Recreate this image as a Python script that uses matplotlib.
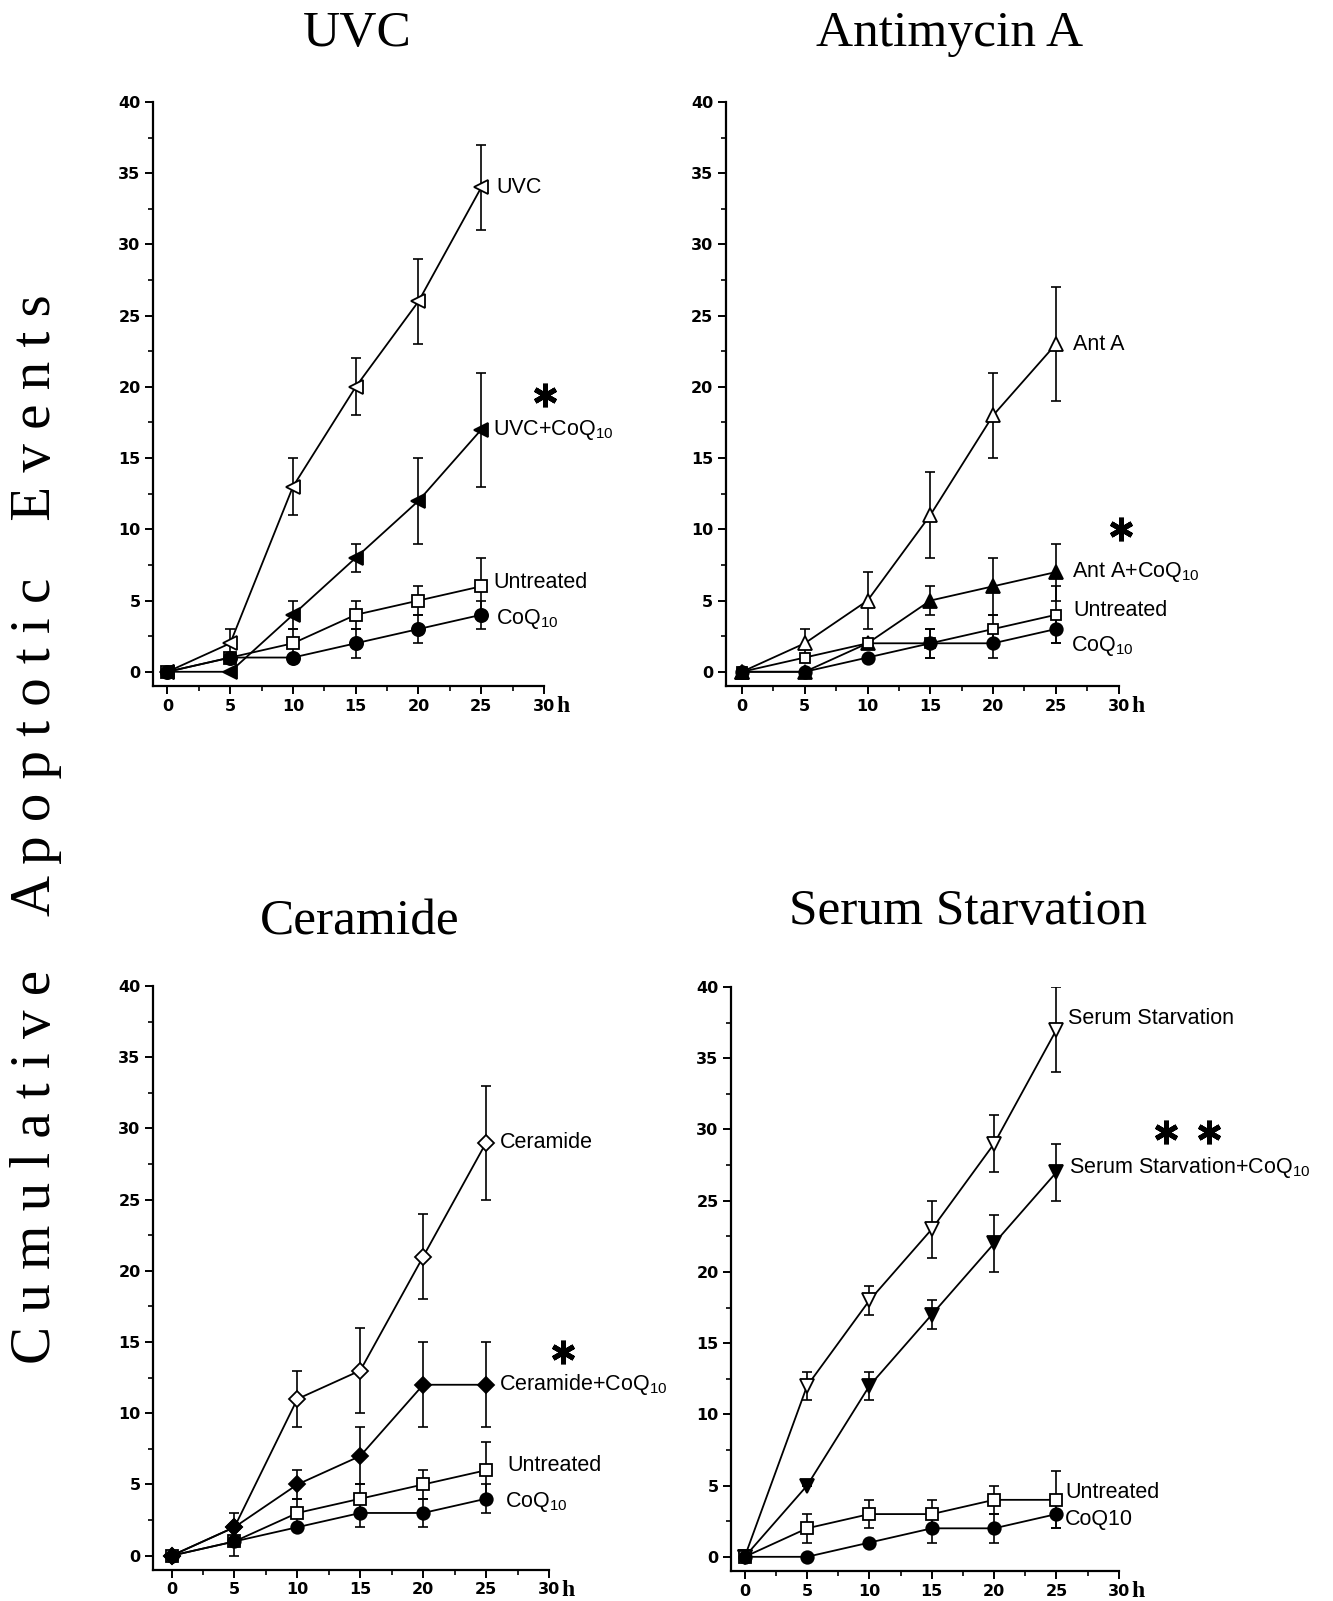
"""Cumulative apoptotic events over time, four treatments with/without CoQ10."""

import matplotlib
matplotlib.use("Agg")
import matplotlib.pyplot as plt
from matplotlib.ticker import MultipleLocator

plt.rcParams['mathtext.fontset'] = 'custom'
plt.rcParams['mathtext.rm'] = 'Liberation Sans'
plt.rcParams['mathtext.it'] = 'Liberation Sans:italic'

hours = [0, 5, 10, 15, 20, 25]

# UVC panel
uvc = [0, 2, 13, 20, 26, 34]
uvc_err = [0, 1, 2, 2, 3, 3]
uvc_coq = [0, 0, 4, 8, 12, 17]
uvc_coq_err = [0, 0, 1, 1, 3, 4]
uvc_untr = [0, 1, 2, 4, 5, 6]
uvc_untr_err = [0, 0, 1, 1, 1, 2]
uvc_coqonly = [0, 1, 1, 2, 3, 4]
uvc_coqonly_err = [0, 0, 0, 1, 1, 1]

# Antimycin A panel
anta = [0, 2, 5, 11, 18, 23]
anta_err = [0, 1, 2, 3, 3, 4]
anta_coq = [0, 0, 2, 5, 6, 7]
anta_coq_err = [0, 0, 0, 1, 2, 2]
anta_untr = [0, 1, 2, 2, 3, 4]
anta_untr_err = [0, 0, 0, 1, 1, 2]
anta_coqonly = [0, 0, 1, 2, 2, 3]
anta_coqonly_err = [0, 0, 0, 1, 1, 1]

# Ceramide panel
cer = [0, 2, 11, 13, 21, 29]
cer_err = [0, 1, 2, 3, 3, 4]
cer_coq = [0, 2, 5, 7, 12, 12]
cer_coq_err = [0, 0, 1, 2, 3, 3]
cer_untr = [0, 1, 3, 4, 5, 6]
cer_untr_err = [0, 1, 1, 1, 1, 2]
cer_coqonly = [0, 1, 2, 3, 3, 4]
cer_coqonly_err = [0, 0, 0, 1, 1, 1]

# Serum starvation panel
ss = [0, 12, 18, 23, 29, 37]
ss_err = [0, 1, 1, 2, 2, 3]
ss_coq = [0, 5, 12, 17, 22, 27]
ss_coq_err = [0, 0, 1, 1, 2, 2]
ss_untr = [0, 2, 3, 3, 4, 4]
ss_untr_err = [0, 1, 1, 1, 1, 2]
ss_coqonly = [0, 0, 1, 2, 2, 3]
ss_coqonly_err = [0, 0, 0, 1, 1, 1]

COQ = 'CoQ$_{10}$'

panels = [
    dict(title='UVC', pos=[0.1148, 0.5715, 0.2933, 0.3648], title_xy=(0.268, 0.9713),
         xmin=-1.15,
         series=[
             (uvc, uvc_err, '<', 'white', 10, 'UVC', (26.2, 34)),
             (uvc_coq, uvc_coq_err, '<', 'black', 10, 'UVC+' + COQ, (25.9, 17)),
             (uvc_untr, uvc_untr_err, 's', 'white', 8.5, 'Untreated', (26.0, 6.3)),
             (uvc_coqonly, uvc_coqonly_err, 'o', 'black', 9.5, COQ, (26.2, 3.7)),
         ],
         stars=[(30.1, 19.4)]),
    dict(title='Antimycin A', pos=[0.5444, 0.5715, 0.2948, 0.3648], title_xy=(0.712, 0.9713),
         xmin=-1.3,
         series=[
             (anta, anta_err, '^', 'white', 10, 'Ant A', (26.4, 23)),
             (anta_coq, anta_coq_err, '^', 'black', 10, 'Ant A+' + COQ, (26.3, 7)),
             (anta_untr, anta_untr_err, 's', 'white', 7, 'Untreated', (26.4, 4.3)),
             (anta_coqonly, anta_coqonly_err, 'o', 'black', 9, COQ, (26.2, 1.8)),
         ],
         stars=[(30.2, 10.0)]),
    dict(title='Ceramide', pos=[0.1148, 0.0194, 0.2971, 0.3648], title_xy=(0.270, 0.4166),
         xmin=-1.47,
         series=[
             (cer, cer_err, 'D', 'white', 8.5, 'Ceramide', (26.1, 29)),
             (cer_coq, cer_coq_err, 'D', 'black', 8.5, 'Ceramide+' + COQ, (26.0, 12)),
             (cer_untr, cer_untr_err, 's', 'white', 8, 'Untreated', (26.7, 6.3)),
             (cer_coqonly, cer_coqonly_err, 'o', 'black', 9, COQ, (26.5, 3.8)),
         ],
         stars=[(31.1, 14.3)]),
    dict(title='Serum Starvation', pos=[0.5484, 0.0187, 0.2909, 0.3648], title_xy=(0.726, 0.4229),
         xmin=-1.1,
         series=[
             (ss, ss_err, 'v', 'white', 10, 'Serum Starvation', (25.9, 37.8)),
             (ss_coq, ss_coq_err, 'v', 'black', 10, 'Serum Starvation+' + COQ, (26.0, 27.3)),
             (ss_untr, ss_untr_err, 's', 'white', 8, 'Untreated', (25.7, 4.5)),
             (ss_coqonly, ss_coqonly_err, 'o', 'black', 9, 'CoQ10', (25.7, 2.6)),
         ],
         stars=[(33.8, 29.8), (37.2, 29.8)]),
]

fig = plt.figure(figsize=(13.33, 16.01), dpi=100)

for p in panels:
    ax = fig.add_axes(p['pos'])
    for vals, err, mk, face, ms, label, (lx, ly) in p['series']:
        ax.errorbar(hours, vals, yerr=err, fmt='none', ecolor='black',
                    elinewidth=1.2, capsize=3.6, capthick=1.2, zorder=2)
        ax.plot(hours, vals, color='black', lw=1.3, marker=mk, ms=ms,
                mfc=face, mec='black', mew=1.3, zorder=3, clip_on=False)
        ax.text(lx, ly, label, fontsize=15.5, family='Liberation Sans',
                va='center', ha='left', clip_on=False)
    # significance asterisks, drawn as six-armed star markers
    sx = [s[0] for s in p['stars']]
    sy = [s[1] for s in p['stars']]
    ax.plot(sx, sy, linestyle='none', marker=(6, 2, 0), ms=17, mew=3.6,
            color='black', clip_on=False)

    ax.set_xlim(p['xmin'], 30)
    ax.set_ylim(-1, 40)
    ax.xaxis.set_major_locator(MultipleLocator(5))
    ax.xaxis.set_minor_locator(MultipleLocator(2.5))
    ax.yaxis.set_major_locator(MultipleLocator(5))
    ax.yaxis.set_minor_locator(MultipleLocator(2.5))
    for s in ['top', 'right']:
        ax.spines[s].set_visible(False)
    for s in ['left', 'bottom']:
        ax.spines[s].set_linewidth(1.6)
    ax.tick_params(which='major', direction='out', length=6, width=1.4,
                   labelsize=11.5, pad=3)
    ax.tick_params(which='minor', direction='out', length=3.5, width=1.2)
    for lbl in ax.get_xticklabels() + ax.get_yticklabels():
        lbl.set_fontweight('bold')
    # hour unit after the last x tick label
    ax.annotate('h', xy=(31.0, -1), xycoords='data', xytext=(0, -7),
                textcoords='offset points', fontsize=17,
                family='Liberation Serif', fontweight='bold',
                ha='left', va='top', annotation_clip=False)
    ax.patch.set_alpha(0)

    fig.text(p['title_xy'][0], p['title_xy'][1], p['title'], fontsize=37,
             family='Liberation Serif', ha='center', va='baseline')

fig.text(0.027, 0.482, 'C u m u l a t i v e    A p o p t o t i c    E v e n t s',
         rotation=90, fontsize=41, family='Liberation Serif',
         ha='center', va='center')

fig.savefig('out.png', dpi=100)
